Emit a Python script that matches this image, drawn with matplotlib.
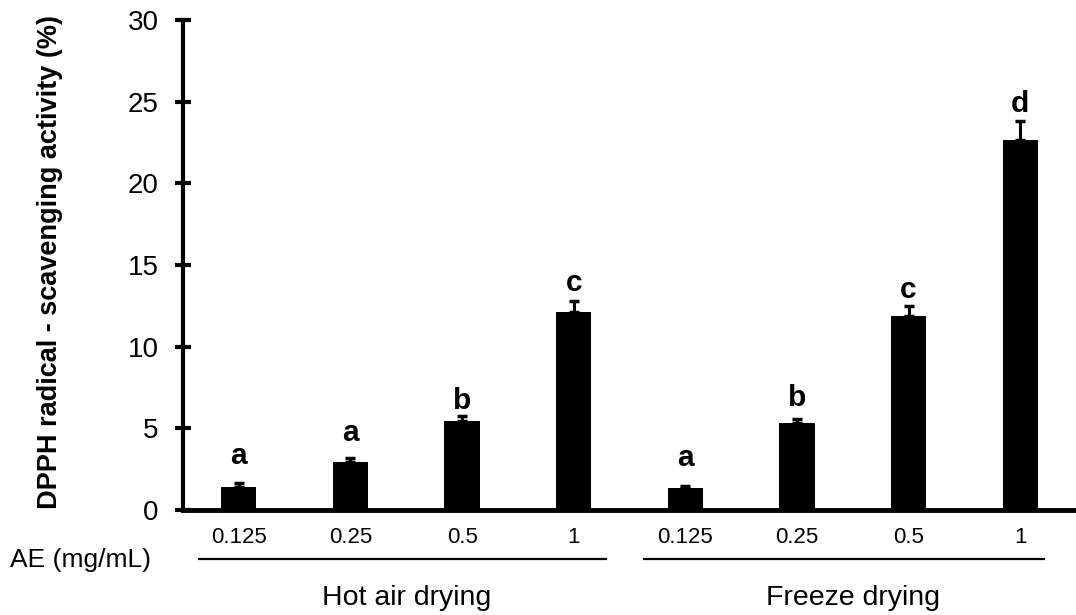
import matplotlib
matplotlib.use("Agg")
import matplotlib.pyplot as plt
import matplotlib.transforms as mtransforms
import numpy as np

plt.rcParams['font.family'] = ['Liberation Sans', 'DejaVu Sans']

concentrations = ["0.125", "0.25", "0.5", "1", "0.125", "0.25", "0.5", "1"]
groups = ["Hot air drying", "Freeze drying"]
values = [1.41, 2.94, 5.46, 12.1, 1.33, 5.30, 11.86, 22.64]
errors = [0.26, 0.25, 0.30, 0.70, 0.15, 0.27, 0.65, 1.20]
letters = ["a", "a", "b", "c", "a", "b", "c", "d"]
letter_y = [2.82, 4.23, 6.20, 13.4, 2.70, 6.38, 13.0, 24.36]
yticks = [0, 5, 10, 15, 20, 25, 30]

fig = plt.figure(figsize=(10.76, 6.15), dpi=100)
ax = fig.add_axes([183/1076, 1 - 510/615, 1 - 183/1076, (510 - 20)/615])

x = np.arange(len(values))
ax.bar(x, values, width=0.315, color='black', zorder=2)
ax.errorbar(x, values, yerr=[np.zeros(len(errors)), errors], fmt='none',
            ecolor='black', elinewidth=2.2, capsize=3.5, capthick=2.5, zorder=3)

for xi, ly, lt in zip(x, letter_y, letters):
    ax.text(xi, ly, lt, ha='center', va='baseline', fontsize=21.5,
            fontweight='bold', color='black')

ax.set_xlim(-0.5, len(values) - 0.5)
ax.set_ylim(0, 30)
ax.set_yticks(yticks)
ax.set_yticklabels([str(t) for t in yticks], fontsize=20)
ax.set_xticks(x)
ax.set_xticklabels(concentrations, fontsize=16)
ax.tick_params(axis='x', length=0, pad=12)
ax.tick_params(axis='y', direction='inout', length=11, width=3, pad=12)

for s in ['top', 'right']:
    ax.spines[s].set_visible(False)
ax.spines['left'].set_linewidth(3)
ax.spines['bottom'].set_linewidth(3.5)

fig.text(50/1076, 1 - 262/615, "DPPH radical - scavenging activity (%)",
         rotation=90, ha='center', va='center', fontsize=19.5, fontweight='bold')

trans = mtransforms.blended_transform_factory(ax.transData, ax.transAxes)
ax.plot([-0.357, 3.285], [-0.1, -0.1], color='black', lw=1.6,
        transform=trans, clip_on=False)
ax.plot([3.626, 7.213], [-0.1, -0.1], color='black', lw=1.6,
        transform=trans, clip_on=False)
ax.text(1.5, -0.18, groups[0], transform=trans, ha='center', va='center',
        fontsize=20.5)
ax.text(5.5, -0.18, groups[1], transform=trans, ha='center', va='center',
        fontsize=20.5)

fig.text(10/1076, 1 - 560/615, "AE (mg/mL)", ha='left', va='center', fontsize=19)

fig.savefig("out.png", dpi=100)
